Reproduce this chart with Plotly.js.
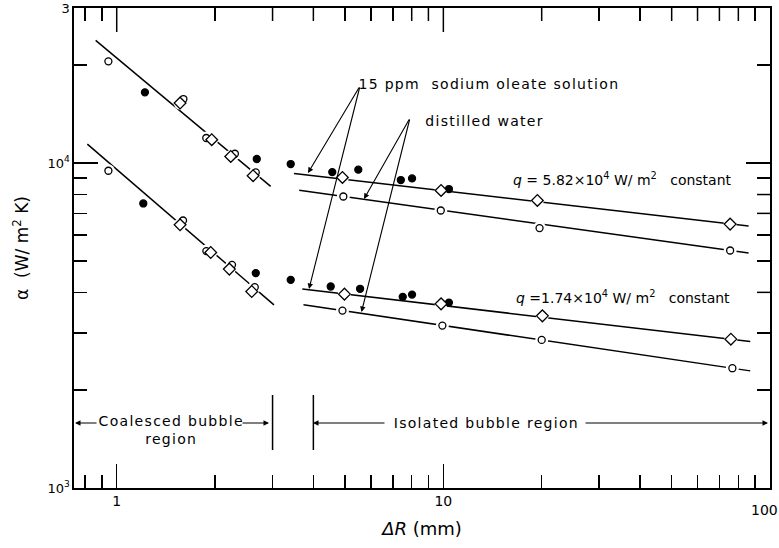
<!DOCTYPE html>
<html><head><meta charset="utf-8">
<script src="https://cdn.plot.ly/plotly-3.0.1.min.js"></script>
<style>html,body{margin:0;padding:0;background:#fff}</style>
</head><body><div id="chart" style="width:779px;height:548px"></div>
<script>
// ---- data (ΔR in mm, α in W/m² K) ----
// q = 5.82e4 W/m²
var upWaterX   = [0.943, 1.60, 1.88, 2.30, 2.665, 4.94, 9.82, 19.7, 75.5];
var upWaterY   = [20560, 15740, 11940, 10680, 9355, 7890, 7145, 6306, 5381];
var upOleateX  = [1.563, 1.954, 2.234, 2.615, 4.91, 9.84, 19.4, 75.5];
var upOleateY  = [15300, 11800, 10480, 9140, 9030, 8233, 7671, 6487];
var upFilledX  = [1.22, 2.684, 3.41, 4.57, 5.49, 7.41, 8.02, 10.4];
var upFilledY  = [16500, 10290, 9930, 9380, 9540, 8866, 8968, 8317];
// q = 1.74e4 W/m²
var loWaterX   = [0.943, 1.596, 1.881, 2.254, 2.646, 4.91, 9.93, 20.0, 76.7];
var loWaterY   = [9470, 6656, 5358, 4862, 4150, 3516, 3161, 2856, 2337];
var loOleateX  = [1.563, 1.94, 2.212, 2.59, 4.98, 9.84, 20.1, 75.9];
var loOleateY  = [6457, 5305, 4716, 4024, 3950, 3687, 3386, 2871];
var loFilledX  = [1.206, 2.665, 3.41, 4.52, 5.56, 7.51, 8.02, 10.4];
var loFilledY  = [7510, 4584, 4371, 4169, 4102, 3874, 3938, 3721];
// correlation lines
var coalUpX = [0.862, 2.96],  coalUpY = [23860, 8473];
var coalLoX = [0.813, 3.03],  coalLoY = [11440, 3661];
var isoUpOleateX = [3.49, 86], isoUpOleateY = [9290, 6400];
var isoUpWaterX  = [3.62, 86], isoUpWaterY  = [8240, 5284];
var isoLoOleateX = [3.70, 87], isoLoOleateY = [4093, 2825];
var isoLoWaterX  = [3.73, 87], isoLoWaterY  = [3661, 2293];
// region boundaries (ΔR, mm)
var regionBounds = [3, 4];
// ticks
var xTickVals = [1, 10], xTickText = ['1', '10'];
var xMinor = [0.8, 0.9, 2, 3, 4, 5, 6, 7, 8, 9, 20, 30, 40, 50, 60, 70, 80, 90];
var yTickVals = [1000, 10000, 30000], yTickText = ['10<sup>3</sup>', '10<sup>4</sup>', '3'];
var yMinor = [2000, 3000, 4000, 5000, 6000, 7000, 8000, 9000, 20000];

var FONT = 'DejaVu Sans';
var MAJ = 24, MIN = 13;                 // tick lengths, px
var PW = 696, PH = 480;                 // plot area size, px
function line(x, y) {
  return {x: x, y: y, mode: 'lines', line: {color: '#000', width: 1.5}, hoverinfo: 'skip'};
}
function halo(x, y) {
  return {x: x, y: y, mode: 'markers', marker: {symbol: 'circle', size: 13, color: '#fff', line: {width: 0}}, hoverinfo: 'skip'};
}
function pts(x, y, sym, size, fill) {
  return {x: x, y: y, mode: 'markers', marker: {symbol: sym, size: size, color: fill, line: {color: '#000', width: 1.3}}};
}
var traces = [
  line(coalUpX, coalUpY), line(coalLoX, coalLoY),
  line(isoUpOleateX, isoUpOleateY), line(isoUpWaterX, isoUpWaterY),
  line(isoLoOleateX, isoLoOleateY), line(isoLoWaterX, isoLoWaterY),
  halo(upWaterX, upWaterY), halo(upOleateX, upOleateY),
  halo(loWaterX, loWaterY), halo(loOleateX, loOleateY),
  pts(upFilledX, upFilledY, 'circle', 7, '#000'),
  pts(loFilledX, loFilledY, 'circle', 7, '#000'),
  pts(upWaterX, upWaterY, 'circle', 7, '#fff'),
  pts(loWaterX, loWaterY, 'circle', 7, '#fff'),
  pts(upOleateX, upOleateY, 'diamond', 9, '#fff'),
  pts(loOleateX, loOleateY, 'diamond', 9, '#fff')
];

// pixel -> paper helpers for annotation placement (plot area 74..770 x 8..488)
function PX(px) { return (px - 74) / PW; }
function PY(py) { return (488 - py) / PH; }
function txt(t, px, py, size) {
  return {text: t, x: PX(px), y: PY(py), xref: 'paper', yref: 'paper', xanchor: 'center', yanchor: 'middle',
          showarrow: false, font: {family: FONT, size: size, color: '#000'}};
}
function arrow(hx, hy, tx, ty) {
  return {text: '', x: PX(hx), y: PY(hy), xref: 'paper', yref: 'paper', ax: tx - hx, ay: ty - hy,
          showarrow: true, arrowhead: 2, arrowsize: 1, arrowwidth: 1.1, arrowcolor: '#000'};
}
var annotations = [
  txt('15 ppm  sodium oleate solution', 489, 84, 14),
  arrow(308, 173, 360, 86), arrow(309, 289, 360, 86),
  txt('distilled water', 484, 121, 14),
  arrow(364, 199, 410, 118), arrow(361.5, 312, 410, 118),
  txt('<i>q</i> = 5.82×10<sup>4</sup> W/ m<sup>2</sup>   constant', 622, 179, 14),
  txt('<i>q</i> =1.74×10<sup>4</sup> W/ m<sup>2</sup>   constant', 623, 297, 14),
  txt('Coalesced bubble<br>region', 171, 430, 14),
  arrow(75, 423, 98, 423), arrow(269, 423, 241, 423),
  txt('Isolated bubble region', 486, 423, 14),
  arrow(313, 423, 386, 423), arrow(768, 423, 584, 423),
  txt('100', 764, 510, 14)   // last x tick label, kept inside the page
];
var shapes = regionBounds.map(function (v) {
  return {type: 'line', xref: 'x', yref: 'paper', x0: v, x1: v, y0: PY(450), y1: PY(395), line: {color: '#000', width: 1.5}};
});
// inside ticks on the top and right frame edges, placed through the axis scales
function topTicks(vals, len) {
  vals.forEach(function (v) {
    shapes.push({type: 'line', xref: 'x', yref: 'paper', x0: v, x1: v, y0: 1, y1: 1 - len / PH, line: {color: '#000', width: 1.5}});
  });
}
function rightTicks(vals, len) {
  vals.forEach(function (v) {
    shapes.push({type: 'line', xref: 'paper', yref: 'y', x0: 1, x1: 1 - len / PW, y0: v, y1: v, line: {color: '#000', width: 1.5}});
  });
}
topTicks(xTickVals, MAJ); topTicks(xMinor, MIN);
rightTicks([10000], MAJ); rightTicks(yMinor, MIN);

function tickAxis(vals, minorVals, extra) {
  return Object.assign({
    type: 'log', showgrid: false, zeroline: false, tickmode: 'array', tickvals: vals,
    ticks: 'inside', ticklen: MAJ, tickwidth: 1.5, tickcolor: '#000',
    showline: true, mirror: 'ticks', linecolor: '#000', linewidth: 1.6,
    minor: {tickmode: 'array', tickvals: minorVals, ticks: 'inside', ticklen: MIN, tickwidth: 1.5, tickcolor: '#000', showgrid: false}
  }, extra);
}
var layout = {
  width: 779, height: 548, margin: {l: 74, r: 9, t: 8, b: 60},
  paper_bgcolor: '#fff', plot_bgcolor: '#fff', showlegend: false,
  xaxis: tickAxis(xTickVals, xMinor, {
    range: [Math.log10(0.74), 2], ticktext: xTickText,
    tickfont: {family: FONT, size: 14, color: '#000'},
    title: {text: '<i>ΔR</i> (mm)', font: {family: FONT, size: 18, color: '#000'}, standoff: 14}
  }),
  yaxis: tickAxis(yTickVals, yMinor, {
    range: [3, Math.log10(30000)], ticktext: yTickText,
    tickfont: {family: FONT, size: 13, color: '#000'},
    title: {text: 'α  (W/ m<sup>2</sup> K)', font: {family: FONT, size: 17, color: '#000'}, standoff: 14}
  }),
  annotations: annotations, shapes: shapes
};
Plotly.newPlot('chart', traces, layout, {staticPlot: true, displayModeBar: false}).then(function (gd) {
  // the original lettering is widely spaced; widen the descriptive labels (not the q labels)
  gd.querySelectorAll('.annotation-text').forEach(function (el) {
    if (/ppm|distilled|bubble/.test(el.textContent)) el.setAttribute('letter-spacing', '1.3px');
  });
});
</script></body></html>
